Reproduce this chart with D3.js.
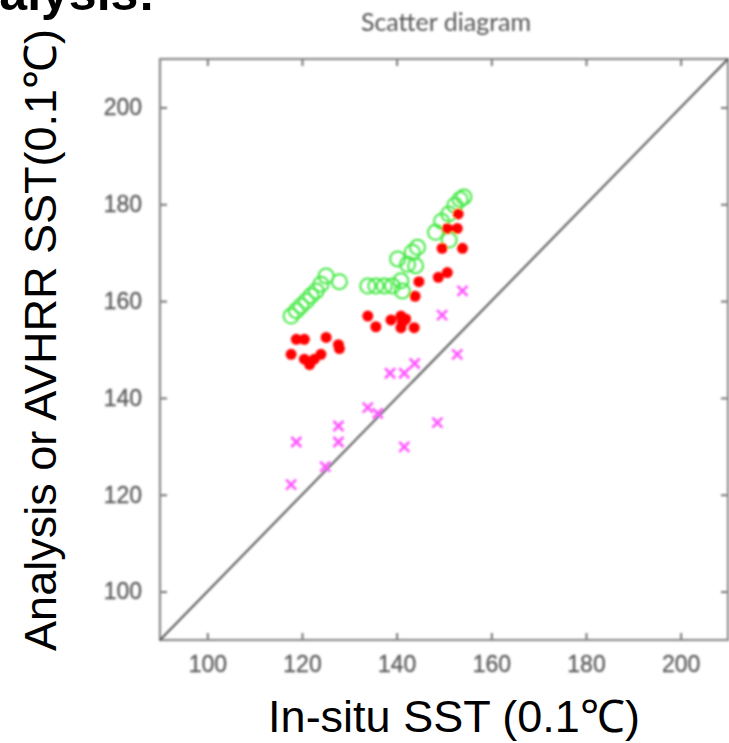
<!DOCTYPE html>
<html>
<head>
<meta charset="utf-8">
<script src="https://cdn.jsdelivr.net/npm/d3@7"></script>
<style>
  body { margin: 0; background: #fff; }
</style>
</head>
<body>
<div id="chart"></div>
<script>
// points, [in-situ, analysis/avhrr] in 0.1°C
const circlePts = [
  [117.7, 156.9], [118.8, 158.0], [119.8, 159.0], [120.9, 160.0], [121.9, 161.1],
  [123.0, 162.1], [124.0, 163.5], [125.1, 165.2], [127.9, 164.0],
  [133.9, 163.1], [135.6, 163.1], [137.4, 163.1], [139.1, 163.1], [140.9, 164.2],
  [141.2, 162.1], [140.2, 168.7], [142.3, 167.6], [143.3, 170.1], [144.4, 171.1],
  [144.0, 167.3],
  [148.2, 174.2], [149.5, 176.5], [151.1, 172.6], [151.0, 178.0], [152.3, 179.8],
  [153.4, 181.0], [154.2, 181.5]
];
const dotPts = [
  [117.7, 149.0], [118.8, 152.1], [120.5, 152.1], [120.5, 148.0], [121.6, 146.9],
  [122.6, 148.0], [124.0, 149.0], [125.1, 152.5], [127.7, 151.0], [127.9, 150.2],
  [133.9, 156.9], [135.6, 154.7], [138.8, 156.1], [140.9, 156.9], [141.2, 155.6],
  [140.9, 154.5], [141.9, 156.3], [143.7, 154.5], [144.7, 164.0], [143.9, 161.0],
  [148.8, 164.9], [150.7, 165.9],
  [149.6, 170.9], [153.9, 170.9], [150.7, 175.0], [152.8, 175.0], [153.0, 178.0]
];
const crossPts = [
  [117.7, 122.1], [118.8, 130.9], [124.9, 125.8], [127.7, 134.2], [127.7, 130.9],
  [133.9, 138.0], [136.0, 136.8], [138.6, 145.1], [141.6, 145.1], [143.8, 147.1],
  [141.6, 129.9], [148.6, 134.9], [149.6, 157.1], [152.8, 149.0], [153.9, 162.1]
];
const axisDomain = [90, 210];
const tickValues = [100, 120, 140, 160, 180, 200];

const W = 729, H = 743;
const plot = { left: 160, right: 728, top: 59, bottom: 640 };

const svg = d3.select("#chart").append("svg")
  .attr("width", W)
  .attr("height", H);

const defs = svg.append("defs");
defs.append("filter").attr("id", "soft")
  .append("feGaussianBlur").attr("stdDeviation", 0.8);

// scales
const x = d3.scaleLinear().domain(axisDomain).range([plot.left, plot.right]);
const y = d3.scaleLinear().domain(axisDomain).range([plot.bottom, plot.top]);

// text cut off at the top of the slide
svg.append("text")
  .attr("x", 155).attr("y", 10)
  .attr("text-anchor", "end")
  .style("font-family", "'Liberation Sans', Arial, sans-serif")
  .style("font-size", "50px")
  .style("font-weight", "bold")
  .text("Analysis:");

const g = svg.append("g").attr("filter", "url(#soft)");

// title
g.append("text")
  .attr("x", 446).attr("y", 31)
  .attr("text-anchor", "middle")
  .style("font-family", "Lato, sans-serif")
  .style("font-size", "25px")
  .style("fill", "#555")
  .text("Scatter diagram");

// axes
const tickFont = ax => ax.selectAll("text")
  .style("font-family", "'Liberation Sans', Arial, sans-serif")
  .style("font-size", "23px")
  .style("fill", "#5a5a5a")
  .style("stroke", "#5a5a5a")
  .style("stroke-width", 0.3);

const styleAxis = ax => {
  ax.select(".domain").remove();
  ax.selectAll("line").attr("stroke", "#666").attr("stroke-width", 1.8);
};

g.append("g")
  .attr("transform", `translate(0,${plot.bottom})`)
  .call(d3.axisBottom(x).tickValues(tickValues).tickSize(-7).tickPadding(16))
  .call(styleAxis).call(tickFont);

g.append("g")
  .attr("transform", `translate(${plot.left},0)`)
  .call(d3.axisLeft(y).tickValues(tickValues).tickSize(-7).tickPadding(18))
  .call(styleAxis).call(tickFont);

g.append("g")
  .attr("transform", `translate(0,${plot.top})`)
  .call(d3.axisTop(x).tickValues(tickValues).tickSize(-7).tickFormat(""))
  .call(styleAxis);

g.append("g")
  .attr("transform", `translate(${plot.right},0)`)
  .call(d3.axisRight(y).tickValues(tickValues).tickSize(-7).tickFormat(""))
  .call(styleAxis);

// frame
g.append("rect")
  .attr("x", plot.left).attr("y", plot.top)
  .attr("width", plot.right - plot.left)
  .attr("height", plot.bottom - plot.top)
  .attr("fill", "none")
  .attr("stroke", "#888")
  .attr("stroke-width", 2.2);

// 1:1 line
g.append("line")
  .attr("x1", x(axisDomain[0])).attr("y1", y(axisDomain[0]))
  .attr("x2", x(axisDomain[1])).attr("y2", y(axisDomain[1]))
  .attr("stroke", "#555")
  .attr("stroke-width", 2);

// open green circles
g.append("g").selectAll("circle")
  .data(circlePts)
  .join("circle")
  .attr("cx", d => x(d[0]))
  .attr("cy", d => y(d[1]))
  .attr("r", 7.5)
  .attr("fill", "none")
  .attr("stroke", "#44e844")
  .attr("stroke-width", 2);

// red dots
g.append("g").selectAll("circle")
  .data(dotPts)
  .join("circle")
  .attr("cx", d => x(d[0]))
  .attr("cy", d => y(d[1]))
  .attr("r", 5.5)
  .attr("fill", "#ff0000");

// magenta crosses
const s = 5;
g.append("g").selectAll("path")
  .data(crossPts)
  .join("path")
  .attr("d", d => {
    const cx = x(d[0]), cy = y(d[1]);
    return `M${cx - s},${cy - s}L${cx + s},${cy + s}M${cx - s},${cy + s}L${cx + s},${cy - s}`;
  })
  .attr("stroke", "#ff55ff")
  .attr("stroke-width", 2.6)
  .attr("fill", "none");

// axis titles
svg.append("text")
  .attr("x", 454).attr("y", 732)
  .attr("text-anchor", "middle")
  .style("font-family", "'Liberation Sans', Arial, sans-serif")
  .style("font-size", "45px")
  .text("In-situ SST (0.1℃)");

svg.append("text")
  .attr("transform", "translate(56,340) rotate(-90)")
  .attr("text-anchor", "middle")
  .style("font-family", "'Liberation Sans', Arial, sans-serif")
  .style("font-size", "45px")
  .text("Analysis or AVHRR SST(0.1℃)");
</script>
</body>
</html>
